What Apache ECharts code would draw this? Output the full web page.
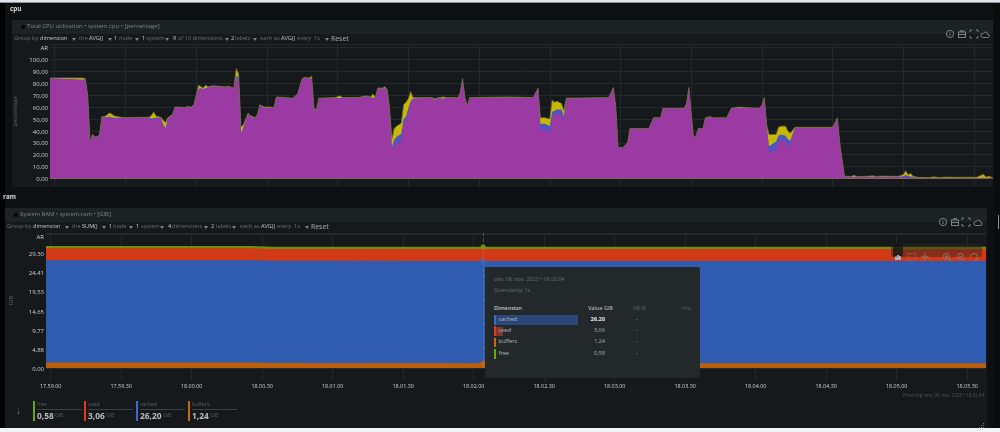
<!DOCTYPE html>
<html>
<head>
<meta charset="utf-8">
<script src="https://cdn.jsdelivr.net/npm/echarts@6/dist/echarts.min.js"></script>
<style>
  html, body { margin: 0; padding: 0; width: 1000px; height: 432px; overflow: hidden; background: #0c1012; font-family: "Open Sans", sans-serif; }
  #page { position: relative; width: 1000px; height: 432px; overflow: hidden; }
  .box { position: absolute; }
  .t { position: absolute; white-space: nowrap; line-height: 1; transform: translateY(-50%); }
  #chart { position: absolute; left: 0; top: 0; width: 1000px; height: 432px; }
</style>
</head>
<body>
<div id="page">
  <div id="under"></div>
  <div id="chart"></div>
  <div id="over"></div>
</div>
<script>
// system.cpu, seconds relative to 17:59:00
const cpuSeconds = [
  -2,12,13,14,15,16,17,18,19,20,
  21,22,23,24,25,27,29,40,41,42,
  43,45,46,47,48,50,51,54,55,56,
  58,59,60,61,62,63,64,65,67,70,
  72,74,75,76,77,78,79,80,82,83,
  84,85,86,87,88,89,92,93,94,98,
  101,103,105,106,108,109,110,111,112,119,
  121,122,125,129,132,134,135,136,137,139,
  140,141,142,143,144,145,147,148,149,150,
  151,152,160,161,163,165,166,171,172,173,
  174,175,176,192,203,205,206,208,210,211,
  212,213,215,216,217,235,237,238,239,241,
  243,244,252,254,257,258,267,268,269,270,
  271,272,273,275,276,278,279,285,287,290,
  295,299,300,301,302,303,306,307,308,310,
  311,312,314,330,332,333,335,338,339,340,
  345,347,348,352,356,358,360,361,362,363,
  364,366,371,373,375,378,382,387,391,394,
  395,396,398
];
const cpuUser = [
  84,82.8,83.6,69.6,30.6,36.6,34.6,34.6,36.6,51.6,
  51.2,51,51.5,50.8,50.3,50.6,50.8,51,49.8,48.5,
  50.5,50.9,44.5,41,50,53.5,59.5,59.6,59,60,
  59.5,61.6,69.6,74.5,75.5,74.8,75,76.2,77.4,77,
  76.6,77,76,75.6,84,82,37,42,54.3,52.4,
  51,50.4,53.5,61.5,60,59,59.4,59,68,67.6,
  67.1,70.6,83.6,84.5,84,83.6,57.4,57,67,67.6,
  67,67.6,67.6,67.5,69,67.8,66.8,67.6,75.6,75.6,
  75.5,74.6,59.6,24,28,29,31.5,46,48,55,
  63,67,67.6,65.5,67.4,66.5,67.6,67.6,71.7,83.7,
  67.7,60.7,67.7,67.9,67.6,75.6,41,41,38.5,52,
  53,54,54,48,67,67.6,76.1,59.7,25.7,25.7,
  29.7,41.7,41.7,50.7,50.7,58.7,58.7,62.7,76.2,54.7,
  34.2,35.7,41.7,41.7,50.7,51.5,50.7,50.7,58.7,59.3,
  59.2,58.7,61.7,67.7,44,22,24,30,32,31,
  27,28,42.5,42.5,50.7,29.7,1.2,1.1,1.2,1.1,
  1.1,1.2,1.1,1.2,1.1,1,0.9,0.9,0.9,0.8,
  0.7,0.5,0.4,0.5,0.4,0.5,0.4,0.4,0.4,0.5,
  0.4,0.5,0.4
];
const cpuSystem = [
  0.2,0.2,0.2,0.2,0.2,0.2,0.2,0.2,0.2,0.2,
  0.3,0.4,0.5,0.6,0.8,0.4,0.2,0.2,0.7,2.2,
  0.8,0.2,1,1.2,0.3,0.2,0.2,0.2,0.2,0.2,
  0.2,0.2,0.2,1,0.5,0.3,1,0.3,0.2,0.2,
  0.1,0.2,0.2,0.2,2.5,2,1,0.8,0.3,0.2,
  0.4,0.2,0.2,0.1,0.3,0.4,0.2,0.2,0.2,0.1,
  0.1,0.1,0.1,0.2,0.1,0.3,0.5,0.4,0.2,0.1,
  0.6,0.1,0.1,0.1,0.2,0.3,1.2,0.1,0.1,0.1,
  0.5,0.1,0.1,2.5,4.5,6,6,4,4,4,
  2,0.3,0.1,0.6,0.2,0.5,0.1,0.1,0.1,0.1,
  0.1,0.1,0.1,0.2,0.1,0.1,5,5,5.5,4,
  4,4,4,4,0.2,0.1,0.1,0.1,0.1,0.1,
  0.1,0.1,0.1,0.1,0.1,0.1,0.1,0.1,0.1,0.1,
  0.1,0.1,0.1,0.1,0.1,0.1,0.1,0.1,0.1,0.2,
  0.1,0.1,0.1,0.1,0.5,5,7,6,5,5,
  6,4,0.2,0.2,0.1,0.1,0.2,0.2,0.2,0.2,
  0.2,0.2,0.2,0.2,0.2,0.4,1,2,1.2,0.8,
  0.5,0.2,0.1,0.1,0.1,0.1,0.1,0.1,0.1,0.3,
  0.1,0.2,0.1
];
const cpuIowait = [
  0.3,1.5,0.2,0.2,0.2,0.2,0.2,0.2,0.2,0.2,
  0.5,1.6,3,3.1,1.7,0.9,0.2,0.3,2.5,5.3,
  1.2,0.4,3.5,4.8,0.7,0.3,0.3,0.2,0.3,0.3,
  0.3,0.2,0.2,3,1,0.9,2.5,0.5,0.4,0.3,
  0.3,0.3,0.3,0.2,6,4,5.5,2.2,0.4,0.4,
  0.6,0.4,0.3,0.4,0.7,0.6,0.4,0.3,0.3,0.3,
  0.3,0.3,0.3,0.3,0.4,2.1,0.6,0.6,0.3,0.3,
  1.9,0.3,0.3,0.5,0.3,0.4,3,0.3,0.3,0.3,
  1,0.3,0.3,6.5,9.5,9,9,12,12,8,
  8,0.7,0.3,0.9,0.4,1.5,0.3,0.3,0.2,0.2,
  0.2,0.2,0.2,0.4,0.3,0.3,5,5,6,10,
  7,7,5,5,0.3,0.3,0.3,0.2,0.2,0.2,
  0.2,0.2,0.2,0.2,0.2,0.2,0.2,0.2,0.2,0.2,
  0.2,0.2,0.2,0.2,0.2,0.4,0.2,0.2,0.2,0.5,
  0.2,0.2,0.2,0.2,0.5,10,6,7,7,8,
  7,6,0.3,0.3,0.2,0.2,0.5,0.4,1.4,0.4,
  0.5,0.9,0.4,0.6,0.5,0.5,1.5,3.6,0.9,2.8,
  0.8,0.3,0.3,0.8,0.3,0.6,0.5,0.6,0.5,2.7,
  0.6,1.1,0.3
];

// system.ram in GiB
const ramSeconds = [-2,85,95,184,398];
const ramBuffers = [1.42,1.42,1.26,1.24,1.24];
const ramCached  = [26.2,26.2,26.2,26.2,26.2];
const ramUsed    = [3.06,3.06,3.06,3.06,3.06];
const ramFree    = [0.58,0.58,0.58,0.58,0.58];
const ramStep = 4.8828125;
const hoverSecond = 184;

// Half-minute marks on the time axes
const timeTicks = [0,30,60,90,120,150,180,210,240,270,300,330,360,390];

// Legend and hover panel values
const dimNames  = ['free','used','cached','buffers'];
const dimValues = ['0,58','3,06','26,20','1,24'];
const dimColors = ['#68a80a','#e03c1c','#3a6cd0','#c9690f'];

const under = document.getElementById('under');
const over  = document.getElementById('over');

function box(parent, x, y, w, h, bg, extra) {
  const d = document.createElement('div');
  d.className = 'box';
  d.style.cssText = `left:${x}px;top:${y}px;width:${w}px;height:${h}px;background:${bg};${extra || ''}`;
  parent.appendChild(d);
  return d;
}
function text(parent, x, y, s, color, size, extra) {
  const d = document.createElement('div');
  d.className = 't';
  d.textContent = s;
  d.style.cssText = `left:${x}px;top:${y}px;color:${color};font-size:${size}px;${extra || ''}`;
  parent.appendChild(d);
  return d;
}
function caret(x, y) {
  return box(over, x, y - 1, 0, 0, 'transparent',
    'border-left:2.5px solid transparent;border-right:2.5px solid transparent;border-top:3px solid #7a8382;');
}

// Page frame and panels
box(under, 0, 0, 1000, 2, '#dfe3ea');
box(under, 0, 2, 1000, 1, '#8d949c');
box(under, 0, 3, 5, 425, '#000');
box(under, 12, 20, 981, 167, '#16191b');
box(under, 12, 20, 981, 14, '#1d2224');
box(under, 5, 208, 982, 220, '#16191b');
box(under, 5, 208, 982, 14, '#1d2224');
box(under, 994, 3, 6, 425, '#0a0d0e');
box(under, 998, 215, 1, 14, '#8b9192');
box(under, 0, 428, 1000, 4, '#f2f3f4');

const dim = '#67716f', hi = '#c3c8c7';
text(over, 10, 9, 'cpu', '#d5d9d9', 6.4, 'font-weight:700');
text(over, 3, 197, 'ram', '#d5d9d9', 6.4, 'font-weight:700');
text(over, 27, 27, 'Total CPU utilization • system.cpu • [percentage]', '#7c8684', 5.95);
text(over, 20, 215, 'System RAM • system.ram • [GiB]', '#7c8684', 5.95);
box(over, 21, 24.5, 4, 4, '#07090a', 'border-radius:1px');
box(over, 14, 212.5, 4, 4, '#07090a', 'border-radius:1px');

// Query controls above each chart
const cpuControls = [
  [14,'Group by',dim],[40,'dimension',hi],[79,'the',dim],[89,'AVG()',hi],[114,'1',hi],[119,'node',dim],
  [142,'1',hi],[146,'system',dim],[173,'9',hi],[178,'of 10 dimensions',dim],[231,'2',hi],[235,'labels',dim],
  [260,'each as',dim],[281,'AVG()',hi],[297,'every',dim],[314,'1s',dim]
];
const ramControls = [
  [7,'Group by',dim],[33,'dimension',hi],[72,'the',dim],[82,'SUM()',hi],[109,'1',hi],[113,'node',dim],
  [136,'1',hi],[141,'system',dim],[168,'4',hi],[172,'dimensions',dim],[211,'2',hi],[216,'labels',dim],
  [240,'each as',dim],[261,'AVG()',hi],[277,'every',dim],[294,'1s',dim]
];
cpuControls.forEach(c => text(over, c[0], 39, c[1], c[2], 5.6));
ramControls.forEach(c => text(over, c[0], 227, c[1], c[2], 5.6));
[72,108,135,165,225,253,325].forEach(x => caret(x, 39));
[65,102,129,160,204,232,305].forEach(x => caret(x, 227));
text(over, 331, 38.5, 'Reset', '#a9afae', 6.9);
text(over, 311, 227, 'Reset', '#a9afae', 6.9);

// Header action icons
function headerIcons(xs, y) {
  const paths = [
    '<circle cx="5" cy="5" r="3.6" fill="none"/><path d="M5 3v.6M5 4.6V7"/>',
    '<rect x="1.5" y="3" width="7" height="5.5" fill="none"/><path d="M3.5 3V1.6h3V3M1.5 5.5h7"/>',
    '<path d="M1 3V1h2M7 1h2v2M9 7v2H7M3 9H1V7"/>',
    '<path d="M2.5 8.5h5a1.6 1.6 0 0 0 .3-3.2 2.4 2.4 0 0 0-4.6-.8 2 2 0 0 0-.7 4z" fill="none"/>'
  ];
  xs.forEach((x, i) => {
    const d = box(over, x, y, 10, 10, 'transparent');
    d.innerHTML = `<svg width="10" height="10" viewBox="0 0 10 10" stroke="#848c8b" stroke-width="0.9" fill="none">${paths[i]}</svg>`;
  });
}
headerIcons([945,957,969,980], 22);
headerIcons([938,950,961,973], 210);

// Toolbox strip over the RAM chart
box(over, 891, 243, 91, 14, 'rgba(40,36,34,0.45)', 'border-radius:2px');
box(over, 893, 243, 10, 14, 'rgba(20,22,24,0.8)', 'border-radius:2px');
const toolPaths = [
  '<path d="M3 8V4.5M5 8V3M7 8V4" stroke-width="1.8" stroke="#b5baba"/>',
  '<rect x="1.5" y="1.5" width="7" height="7" stroke-dasharray="1.2 1"/>',
  '<path d="M1 5h8M5 1v8M3 3.5v3M7 3.5v3"/>',
  '<circle cx="4.4" cy="4.4" r="3"/><path d="M6.6 6.6L9 9M3 4.4h3M4.4 3v3"/>',
  '<circle cx="4.4" cy="4.4" r="3"/><path d="M6.6 6.6L9 9M3 4.4h3"/>',
  '<path d="M1.5 5A3.5 3.5 0 1 1 5 8.5M8.5 9l-1.5-1.5"/>'
];
[893,907,920,942,956,969].forEach((x, i) => {
  const d = box(over, x, 245, 10, 10, 'transparent');
  d.innerHTML = `<svg width="10" height="10" viewBox="0 0 10 10" stroke="#8e7770" stroke-width="0.9" fill="none">${toolPaths[i]}</svg>`;
});

// Hover panel
box(over, 485, 267, 215, 111, '#23282a', 'border-radius:2px');
text(over, 494, 280, 'ons. 08. nov. 2023 • 18.02.04', '#6a7371', 5.3);
text(over, 494, 290.5, 'Granularity:  1s', '#6a7371', 5.3);
text(over, 494, 308.5, 'Dimension', '#c3c8c7', 5.4, 'font-weight:600');
text(over, 588, 308.5, 'Value GiB', '#aab0af', 5.4, 'font-weight:600');
text(over, 633, 308.5, 'AR %', '#667', 5.4);
text(over, 681, 308.5, 'Info', '#566', 5.4);
box(over, 494, 315, 84, 9.5, '#2c4778');
box(over, 494, 326.5, 9, 9.5, 'rgba(200,70,50,0.55)');
const hoverOrder = [2,1,3,0];
const hoverRows = [319.5,330.5,342,353.5];
hoverOrder.forEach((k, i) => {
  const y = hoverRows[i];
  box(over, 494, y - 4.5, 2.4, 9.5, dimColors[k]);
  text(over, 498.5, y, dimNames[k], '#b8bdbc', 5.6);
  text(over, 605, y, dimValues[k], i === 0 ? '#e2e5e5' : '#a6acab', 5.6,
    'transform:translate(-100%,-50%);' + (i === 0 ? 'font-weight:700' : ''));
  text(over, 636, y, '-', '#a6acab', 5.6);
});

// Bottom legend
const legendX = [33,84,136,188];
text(over, 16, 409.5, '↓', '#6f7877', 10);
dimNames.forEach((n, i) => {
  const x = legendX[i];
  box(over, x, 401, 2.4, 20, dimColors[i]);
  text(over, x + 4, 405, n, '#596361', 5.2);
  box(over, x + 4, 409, 45, 0.7, '#3b4241');
  text(over, x + 4, 416, dimValues[i], '#b7bcbb', 8.4, 'font-weight:700');
  text(over, x + 4 + (dimValues[i].length > 4 ? 23 : 18), 416, 'GiB', '#525b5a', 5.2);
});
text(over, 984, 395, 'Hovering: ons. 08. nov. 2023 • 18.02.04', '#4d5755', 4.5, 'transform:translate(-100%,-50%)');
[[983,423],[981,425],[983,425],[979,427],[981,427],[983,427]].forEach(p => box(over, p[0], p[1], 1, 1, '#6a7271'));

// Charts
const grid = '#23282a';
const fmtComma = v => v.toFixed(2).replace('.', ',');
const clock = s => {
  const total = 17 * 3600 + 59 * 60 + s, p = n => String(n).padStart(2, '0');
  return `${p(Math.floor(total / 3600))}.${p(Math.floor(total / 60) % 60)}.${p(total % 60)}`;
};

// Cumulative tops, so the layers are painted from the tallest down
function cumulative(lists) {
  const out = [];
  lists.forEach((l, k) => out.push(l.map((v, i) => v + (k ? out[k - 1][i] : 0))));
  return out;
}
const area = (name, xs, tops, color, idx, line) => ({
  name, type: 'line', xAxisIndex: idx, yAxisIndex: idx,
  data: xs.map((x, i) => [x, tops[i]]), showSymbol: false, symbol: 'none', silent: true,
  lineStyle: line || { width: 0 }, areaStyle: { color, opacity: 1 }, itemStyle: { color }
});
const cpuTops = cumulative([cpuUser, cpuSystem, cpuIowait]);
const ramTops = cumulative([ramBuffers, ramCached, ramUsed, ramFree]);
const hoverIdx = ramSeconds.indexOf(hoverSecond);
const hoverColors = [dimColors[3], dimColors[2], dimColors[1], dimColors[0]];

const chart = echarts.init(document.getElementById('chart'), null, { renderer: 'canvas' });
const xBase = { type: 'value', min: -2, max: 398,
  splitLine: { show: true, lineStyle: { color: grid, width: 1 } } };
const yLabel = { color: '#cdd1d1', fontSize: 6, fontFamily: '"Open Sans"', margin: 2, showMaxLabel: false, padding: [2, 0, 0, 0],
  rich: { ar: { fontSize: 6, color: '#cdd1d1', fontFamily: '"Open Sans"', padding: [4, 0, 0, 0] } } };

chart.setOption({
  animation: false,
  backgroundColor: 'transparent',
  grid: [
    { left: 50, right: 7, top: 44, bottom: 432 - 178.5 },
    { left: 43, right: 14, top: 233, bottom: 432 - 368 }
  ],
  xAxis: [
    Object.assign({}, xBase, { gridIndex: 0,
      axisLine: { show: true, lineStyle: { color: '#5d2c63', width: 1 } },
      axisTick: { show: true, customValues: timeTicks, length: 8, lineStyle: { color: grid } },
      axisLabel: { show: false, customValues: timeTicks } }),
    Object.assign({}, xBase, { gridIndex: 1,
      axisLine: { show: false },
      axisTick: { show: true, customValues: timeTicks, length: 13, lineStyle: { color: grid } },
      axisLabel: { show: true, customValues: timeTicks, color: '#cdd1d1', fontSize: 5.4, fontFamily: '"Open Sans"', margin: 16,
        hideOverlap: false, formatter: v => clock(v) } })
  ],
  yAxis: [
    { type: 'value', gridIndex: 0, min: 0, max: 113, interval: 10,
      axisLine: { show: false }, axisTick: { show: false },
      splitLine: { lineStyle: { color: grid } },
      name: 'percentage', nameLocation: 'middle', nameGap: 28, nameRotate: 90,
      nameTextStyle: { color: '#59625f', fontSize: 5.8, fontFamily: '"Open Sans"' },
      axisLabel: Object.assign({}, yLabel, { formatter: v => v === 110 ? 'AR' : fmtComma(v) }) },
    { type: 'value', gridIndex: 1, min: 0, max: 34.6, interval: ramStep,
      axisLine: { show: false }, axisTick: { show: false },
      splitLine: { lineStyle: { color: grid } },
      name: 'GiB', nameLocation: 'middle', nameGap: 32, nameRotate: 90,
      nameTextStyle: { color: '#59625f', fontSize: 5.8, fontFamily: '"Open Sans"' },
      axisLabel: Object.assign({}, yLabel, { formatter: v => Math.abs(v - 7 * ramStep) < 0.01 ? '{ar|AR}' : fmtComma(v) }) }
  ],
  series: [
    area('iowait', cpuSeconds, cpuTops[2], '#c8b900', 0, { width: 0.8, color: '#6e6c3c' }),
    area('system', cpuSeconds, cpuTops[1], '#4f55c0', 0),
    area('user', cpuSeconds, cpuTops[0], '#9b3aa3', 0),
    area('free', ramSeconds, ramTops[3], '#6f8f10', 1),
    area('used', ramSeconds, ramTops[2], '#d13a14', 1),
    area('cached', ramSeconds, ramTops[1], '#2f5bb0', 1),
    area('buffers', ramSeconds, ramTops[0], '#bd5f08', 1),
    { type: 'scatter', xAxisIndex: 1, yAxisIndex: 1, silent: true, symbolSize: 5, z: 5,
      data: ramTops.map((tops, k) => ({ value: [hoverSecond, tops[hoverIdx]], itemStyle: { color: hoverColors[k] } })),
      markLine: { silent: true, symbol: 'none', label: { show: false },
        lineStyle: { color: '#7f8786', type: 'dashed', width: 1, opacity: 0.5 },
        data: [{ xAxis: hoverSecond }] } }
  ]
});
</script>
</body>
</html>
